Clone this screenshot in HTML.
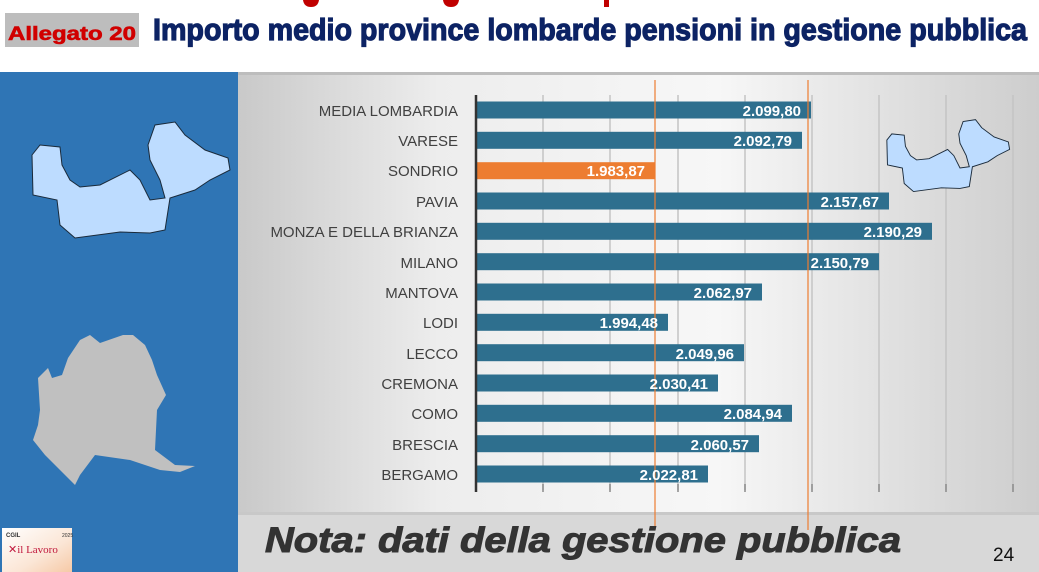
<!DOCTYPE html>
<html><head><meta charset="utf-8"><style>
html,body{margin:0;padding:0;background:#fff;}
svg{display:block;}
</style></head><body>
<svg width="1039" height="572" viewBox="0 0 1039 572" xmlns="http://www.w3.org/2000/svg" font-family="Liberation Sans, sans-serif">
<defs>
<linearGradient id="bg" x1="0" x2="1" y1="0" y2="0">
<stop offset="0" stop-color="#c9c9c9"/><stop offset="0.25" stop-color="#ededed"/><stop offset="0.6" stop-color="#f7f7f7"/><stop offset="1" stop-color="#cdcdcd"/>
</linearGradient>
<linearGradient id="logo" x1="0" x2="1" y1="0" y2="1">
<stop offset="0" stop-color="#fff"/><stop offset="0.6" stop-color="#fbe6d6"/><stop offset="1" stop-color="#f6c9a6"/>
</linearGradient>
<path id="sm" d="M32,155 L40,145 L60,147 L62,165 L70,180 L80,187 L100,185 L130,170 L140,180 L150,200 L165,198 L160,180 L150,160 L148,145 L155,125 L175,122 L185,135 L205,150 L228,158 L230,170 L210,180 L195,190 L170,198 L165,230 L150,233 L120,232 L75,238 L60,225 L57,200 L33,195 Z"/>
</defs>
<rect width="1039" height="572" fill="#fff"/>
<path d="M303 0 h16 q-1 7 -8 7 q-7 0 -8 -7z" fill="#c00000"/>
<path d="M443 0 h16 q-1 7 -8 7 q-7 0 -8 -7z" fill="#c00000"/>
<rect x="604" y="0" width="5" height="7" fill="#c00000"/>
<rect x="5" y="13" width="134" height="34" fill="#bdbdbd"/>
<text x="72" y="40" text-anchor="middle" font-size="19" font-weight="bold" fill="#d00000" stroke="#d00000" stroke-width="0.6" textLength="128" lengthAdjust="spacingAndGlyphs">Allegato 20</text>
<text x="153" y="40" font-size="31" font-weight="bold" fill="#0c2364" stroke="#0c2364" stroke-width="1.2" textLength="874" lengthAdjust="spacingAndGlyphs">Importo medio province lombarde pensioni in gestione pubblica</text>
<rect x="0" y="72" width="238" height="500" fill="#2f75b5"/>
<rect x="238" y="72" width="801" height="442" fill="url(#bg)"/>
<rect x="238" y="72" width="801" height="3" fill="#bdbdbd"/>
<rect x="238" y="512" width="801" height="60" fill="#d8d8d8"/>
<rect x="238" y="512" width="801" height="3" fill="#c8c8c8"/>
<g stroke="#c4c4c4" stroke-width="1.5">
<line x1="543" y1="95" x2="543" y2="490"/><line x1="610" y1="95" x2="610" y2="490"/>
<line x1="678" y1="95" x2="678" y2="490"/><line x1="745" y1="95" x2="745" y2="490"/>
<line x1="812" y1="95" x2="812" y2="490"/><line x1="879" y1="95" x2="879" y2="490"/>
<line x1="946" y1="95" x2="946" y2="490"/><line x1="1013" y1="95" x2="1013" y2="490"/>
</g>
<g stroke="#8a8a8a" stroke-width="1.5">
<line x1="543" y1="484" x2="543" y2="492"/><line x1="610" y1="484" x2="610" y2="492"/><line x1="678" y1="484" x2="678" y2="492"/><line x1="745" y1="484" x2="745" y2="492"/><line x1="812" y1="484" x2="812" y2="492"/><line x1="879" y1="484" x2="879" y2="492"/><line x1="946" y1="484" x2="946" y2="492"/><line x1="1013" y1="484" x2="1013" y2="492"/>
</g>
<g fill="#2e6f8e">
<rect x="476" y="101.5" width="335" height="17"/>
<rect x="476" y="131.8" width="326" height="17"/>
<rect x="476" y="192.5" width="413" height="17"/>
<rect x="476" y="222.8" width="456" height="17"/>
<rect x="476" y="253.2" width="403" height="17"/>
<rect x="476" y="283.5" width="286" height="17"/>
<rect x="476" y="313.8" width="192" height="17"/>
<rect x="476" y="344.2" width="268" height="17"/>
<rect x="476" y="374.5" width="242" height="17"/>
<rect x="476" y="404.8" width="316" height="17"/>
<rect x="476" y="435.2" width="283" height="17"/>
<rect x="476" y="465.5" width="232" height="17"/>
</g>
<rect x="476" y="162.2" width="179" height="17" fill="#ed7d31"/>
<line x1="476" y1="95" x2="476" y2="492" stroke="#333" stroke-width="2.5"/>
<line x1="655" y1="80" x2="655" y2="530" stroke="#ed7d31" stroke-width="1.2"/>
<line x1="808" y1="80" x2="808" y2="530" stroke="#ed7d31" stroke-width="1.2"/>
<g font-size="15" fill="#404040" text-anchor="end">
<text x="458" y="116">MEDIA LOMBARDIA</text><text x="458" y="146">VARESE</text><text x="458" y="176">SONDRIO</text>
<text x="458" y="207">PAVIA</text><text x="458" y="237">MONZA E DELLA BRIANZA</text><text x="458" y="268">MILANO</text>
<text x="458" y="298">MANTOVA</text><text x="458" y="328">LODI</text><text x="458" y="359">LECCO</text>
<text x="458" y="389">CREMONA</text><text x="458" y="419">COMO</text><text x="458" y="450">BRESCIA</text><text x="458" y="480">BERGAMO</text>
</g>
<g font-size="15" font-weight="bold" fill="#fff" text-anchor="end">
<text x="801" y="116">2.099,80</text><text x="792" y="146">2.092,79</text><text x="645" y="176">1.983,87</text>
<text x="879" y="207">2.157,67</text><text x="922" y="237">2.190,29</text><text x="869" y="268">2.150,79</text>
<text x="752" y="298">2.062,97</text><text x="658" y="328">1.994,48</text><text x="734" y="359">2.049,96</text>
<text x="708" y="389">2.030,41</text><text x="782" y="419">2.084,94</text><text x="749" y="450">2.060,57</text><text x="698" y="480">2.022,81</text>
</g>
<use href="#sm" fill="#bddcff" stroke="#1a2a3a" stroke-width="1"/>
<use href="#sm" transform="translate(867,44) scale(0.62)" fill="#bddcff" stroke="#1a2a3a" stroke-width="1.5"/>
<path d="M80,340 L90,335 L100,343 L123,335 L133,335 L145,345 L152,360 L157,375 L166,395 L157,410 L155,450 L175,465 L195,466 L180,472 L160,470 L130,460 L95,455 L80,475 L75,485 L60,470 L45,455 L33,440 L38,425 L40,410 L38,378 L48,368 L52,378 L62,375 L68,358 Z" fill="#c0c0c0"/>
<rect x="2" y="528" width="70" height="44" fill="url(#logo)"/>
<text x="6" y="537" font-size="6" font-weight="bold" fill="#333">CGIL</text>
<text x="62" y="537" font-size="5" fill="#333">2025</text>
<text x="8" y="553" font-size="11" fill="#c0173c" font-family="Liberation Serif, serif">✕il Lavoro</text>
<text x="265" y="552" font-size="35" font-weight="bold" font-style="italic" fill="#333" stroke="#333" stroke-width="1" textLength="636" lengthAdjust="spacingAndGlyphs">Nota: dati della gestione pubblica</text>
<text x="993" y="561" font-size="19" fill="#111">24</text>
</svg>
</body></html>
